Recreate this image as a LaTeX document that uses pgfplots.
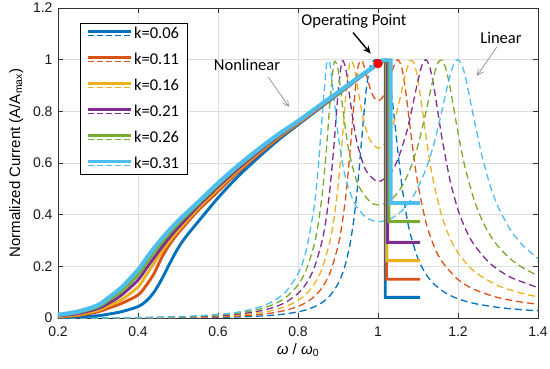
\documentclass[border=0pt]{standalone}
\usepackage{fontspec}
\setmainfont{Liberation Sans}
\newfontfamily\arialf{Liberation Sans}
\newfontfamily\calib{Carlito}
\usepackage{pgfplots}
\pgfplotsset{compat=1.18}
\usetikzlibrary{arrows.meta}
\definecolor{c1}{rgb}{0,0.447,0.741}
\definecolor{c2}{rgb}{0.85,0.325,0.098}
\definecolor{c3}{rgb}{0.929,0.694,0.125}
\definecolor{c4}{rgb}{0.494,0.184,0.556}
\definecolor{c5}{rgb}{0.466,0.674,0.188}
\definecolor{c6}{rgb}{0.301,0.745,0.933}
\newcommand\tickfont{\arialf\fontsize{14}{16}\selectfont}
\begin{document}
\begin{tikzpicture}
\useasboundingbox (-58pt,-50pt) rectangle (492pt,318pt);
\begin{axis}[
  scale only axis, width=480pt, height=310pt,
  xmin=0.2, xmax=1.4, ymin=0, ymax=1.2,
  xtick={0.2,0.4,0.6,0.8,1,1.2,1.4},
  ytick={0,0.2,0.4,0.6,0.8,1,1.2},
  xticklabel={\tickfont\pgfmathprintnumber[assume math mode=true]{\tick}},
  yticklabel={\tickfont\pgfmathprintnumber[assume math mode=true]{\tick}},
  tick label style={color=black!90},
  xticklabel style={yshift=-5pt},
  yticklabel style={xshift=-2pt},
  tick align=inside, major tick length=5pt,
  tick style={color=black!80, line width=0.6pt},
  axis line style={color=black!80, line width=0.7pt},
  grid=major, major grid style={color=black!13, line width=0.7pt},
  xlabel={\textit{ω} / \textit{ω}\textsubscript{0}},
  ylabel={Normalized Current (A/A\textsubscript{max})},
  label style={font=\arialf\fontsize{15}{17}\selectfont},
  xlabel style={yshift=0pt},
  ylabel style={yshift=3pt},
  legend style={at={(rel axis cs:0.0458,0.9516)}, anchor=north west,
    draw=black, line width=0.9pt, fill=white,
    font=\calib\fontsize{16.5}{18}\selectfont, row sep=9pt,
    inner xsep=6pt, inner ysep=2pt},
  legend cell align=left,
  legend image code/.code={
    \draw[#1, solid, line width=2.6pt] (0pt,2.2pt) -- (43pt,2.2pt);
    \draw[#1, line width=1pt, dash pattern=on 6pt off 3pt] (0pt,-1.8pt) -- (43pt,-1.8pt);
  },
  dsh/.style={line width=1.3pt, dash pattern=on 7pt off 4pt, smooth, tension=0.45, forget plot},
  sol/.style={line width=2.9pt, smooth, tension=0.5},
  stp/.style={line width=2.9pt, forget plot},
]
% ---------- linear (dashed) responses ----------
\addplot[c1, dsh] coordinates {(0.2,0.0) (0.3,0.0001) (0.4,0.0003) (0.5,0.0009) (0.6,0.0025) (0.65,0.0042) (0.7,0.0071) (0.74,0.0112) (0.77,0.0161) (0.8,0.0238) (0.82,0.0315) (0.84,0.0427) (0.86,0.0596) (0.88,0.0865) (0.9,0.1321) (0.91,0.1673) (0.92,0.2161) (0.93,0.2857) (0.94,0.3859) (0.95,0.5266) (0.96,0.705) (0.97,0.876) (0.98,0.9728) (0.99,0.998) (1.0,1.0) (1.01,0.9985) (1.02,0.979) (1.03,0.9106) (1.04,0.785) (1.05,0.6396) (1.06,0.5096) (1.07,0.4076) (1.08,0.3304) (1.1,0.2292) (1.12,0.1693) (1.14,0.1313) (1.17,0.0959) (1.2,0.0743) (1.24,0.0565) (1.3,0.041) (1.36,0.0321) (1.4,0.0281)};
\addplot[c2, dsh] coordinates {(0.2,0.0) (0.3,0.0002) (0.4,0.0006) (0.5,0.0017) (0.6,0.0046) (0.65,0.0077) (0.7,0.0132) (0.74,0.0208) (0.77,0.03) (0.8,0.0447) (0.82,0.0598) (0.84,0.0821) (0.86,0.1168) (0.88,0.1742) (0.9,0.2776) (0.91,0.3612) (0.92,0.4794) (0.93,0.6414) (0.94,0.831) (0.95,0.9717) (0.96,0.996) (0.97,0.947) (0.98,0.891) (0.99,0.853) (1.0,0.841) (1.01,0.851) (1.02,0.882) (1.03,0.9285) (1.04,0.9766) (1.05,1.0) (1.06,0.9656) (1.07,0.869) (1.08,0.7417) (1.09,0.619) (1.1,0.5164) (1.12,0.3696) (1.14,0.2778) (1.16,0.2185) (1.2,0.1488) (1.24,0.1108) (1.3,0.0791) (1.36,0.0613) (1.4,0.0534)};
\addplot[c3, dsh] coordinates {(0.2,0.0001) (0.3,0.0002) (0.4,0.0008) (0.5,0.0025) (0.6,0.0068) (0.65,0.0113) (0.7,0.0194) (0.74,0.0308) (0.77,0.0449) (0.8,0.068) (0.82,0.0922) (0.84,0.1294) (0.86,0.19) (0.88,0.298) (0.89,0.385) (0.9,0.509) (0.91,0.6777) (0.92,0.8697) (0.93,0.9918) (0.94,0.9736) (0.95,0.884) (0.96,0.796) (0.97,0.7314) (0.98,0.689) (1.0,0.6575) (1.02,0.6817) (1.04,0.7588) (1.05,0.8168) (1.06,0.885) (1.07,0.952) (1.08,0.9955) (1.09,0.988) (1.1,0.9205) (1.11,0.8158) (1.12,0.7035) (1.13,0.602) (1.14,0.517) (1.16,0.392) (1.18,0.309) (1.2,0.252) (1.24,0.181) (1.3,0.1252) (1.36,0.0953) (1.4,0.0823)};
\addplot[c4, dsh] coordinates {(0.2,0.0001) (0.3,0.0003) (0.4,0.0011) (0.5,0.0032) (0.6,0.0089) (0.65,0.015) (0.7,0.0259) (0.74,0.0416) (0.77,0.0614) (0.8,0.095) (0.82,0.1318) (0.84,0.1913) (0.86,0.2963) (0.87,0.381) (0.88,0.5017) (0.89,0.67) (0.9,0.8687) (0.91,0.994) (0.92,0.9606) (0.93,0.848) (0.94,0.7417) (0.95,0.663) (0.97,0.5705) (1.0,0.528) (1.03,0.5578) (1.05,0.616) (1.07,0.7108) (1.08,0.7747) (1.09,0.847) (1.1,0.92) (1.11,0.979) (1.12,1.0) (1.13,0.9685) (1.14,0.8916) (1.15,0.794) (1.16,0.696) (1.18,0.5335) (1.2,0.419) (1.22,0.3403) (1.24,0.2842) (1.28,0.2113) (1.33,0.1587) (1.4,0.1176)};
\addplot[c5, dsh] coordinates {(0.2,0.0001) (0.3,0.0004) (0.4,0.0014) (0.5,0.004) (0.6,0.0112) (0.65,0.0188) (0.7,0.0328) (0.74,0.0534) (0.77,0.0803) (0.8,0.128) (0.82,0.1838) (0.84,0.281) (0.85,0.359) (0.86,0.471) (0.87,0.632) (0.88,0.835) (0.89,0.988) (0.9,0.9636) (0.91,0.837) (0.92,0.716) (0.93,0.6255) (0.95,0.5163) (0.98,0.4495) (1.0,0.438) (1.02,0.445) (1.04,0.4685) (1.06,0.51) (1.08,0.5746) (1.1,0.6687) (1.12,0.798) (1.13,0.871) (1.14,0.94) (1.15,0.988) (1.16,0.998) (1.17,0.9635) (1.18,0.8935) (1.19,0.806) (1.2,0.7185) (1.21,0.638) (1.22,0.568) (1.24,0.4586) (1.26,0.3793) (1.28,0.3213) (1.3,0.278) (1.33,0.2303) (1.36,0.1962) (1.4,0.164)};
\addplot[c6, dsh] coordinates {(0.2,0.0001) (0.3,0.0005) (0.4,0.0016) (0.5,0.0048) (0.6,0.0134) (0.65,0.0228) (0.7,0.0403) (0.74,0.0667) (0.77,0.1028) (0.8,0.171) (0.82,0.2577) (0.84,0.4259) (0.85,0.5708) (0.86,0.7708) (0.87,0.962) (0.8737,0.995) (0.88,0.9817) (0.89,0.8516) (0.9,0.7133) (0.91,0.61) (0.92,0.537) (0.94,0.448) (0.97,0.3895) (1.0,0.373) (1.03,0.3828) (1.06,0.4156) (1.09,0.4762) (1.12,0.5765) (1.14,0.6753) (1.16,0.8034) (1.17,0.8735) (1.18,0.938) (1.19,0.9847) (1.2,1.0) (1.21,0.9775) (1.22,0.9233) (1.24,0.771) (1.26,0.627) (1.28,0.514) (1.3,0.431) (1.33,0.3436) (1.36,0.284) (1.4,0.2303)};
% ---------- nonlinear (solid) responses: rising branch + jump/step ----------
\addplot[c1, sol] coordinates {(0.2,0.002) (0.25,0.005) (0.3,0.009) (0.33,0.016) (0.36,0.025) (0.4,0.044) (0.42,0.065) (0.44,0.1) (0.46,0.152) (0.48,0.213) (0.5,0.27) (0.52,0.315) (0.55,0.372) (0.6,0.465) (0.65,0.548) (0.7,0.62) (0.75,0.688) (0.8,0.748) (0.85,0.807) (0.9,0.866) (0.95,0.925) (1.0,0.982) (1.012,0.996)};
\addlegendentry{k=0.06}
\addplot[c1, stp] coordinates {(1.0,0.982) (1.012,0.996) (1.018,0.996) (1.018,0.08) (1.105,0.08)};
\addplot[c2, sol] coordinates {(0.2,0.004) (0.25,0.01) (0.3,0.024) (0.33,0.04) (0.36,0.057) (0.4,0.089) (0.42,0.125) (0.44,0.172) (0.46,0.236) (0.48,0.287) (0.5,0.328) (0.52,0.364) (0.55,0.416) (0.6,0.49) (0.65,0.565) (0.7,0.632) (0.75,0.695) (0.8,0.752) (0.85,0.81) (0.9,0.868) (0.95,0.927) (1.0,0.983) (1.012,0.997)};
\addlegendentry{k=0.11}
\addplot[c2, stp] coordinates {(1.0,0.983) (1.012,0.997) (1.021,0.997) (1.021,0.15) (1.105,0.15)};
\addplot[c3, sol] coordinates {(0.2,0.006) (0.25,0.013) (0.3,0.03) (0.33,0.05) (0.36,0.072) (0.4,0.12) (0.42,0.165) (0.44,0.212) (0.46,0.258) (0.48,0.3) (0.5,0.338) (0.52,0.373) (0.55,0.425) (0.6,0.5) (0.65,0.572) (0.7,0.638) (0.75,0.7) (0.8,0.755) (0.85,0.813) (0.9,0.87) (0.95,0.928) (1.0,0.984) (1.012,0.997)};
\addlegendentry{k=0.16}
\addplot[c3, stp] coordinates {(1.0,0.984) (1.012,0.997) (1.022,0.997) (1.022,0.222) (1.105,0.222)};
\addplot[c4, sol] coordinates {(0.2,0.008) (0.25,0.017) (0.3,0.037) (0.33,0.06) (0.36,0.09) (0.4,0.147) (0.42,0.19) (0.44,0.233) (0.46,0.275) (0.48,0.314) (0.5,0.35) (0.52,0.383) (0.55,0.433) (0.6,0.508) (0.65,0.578) (0.7,0.643) (0.75,0.703) (0.8,0.758) (0.85,0.815) (0.9,0.871) (0.95,0.929) (1.0,0.984) (1.012,0.997)};
\addlegendentry{k=0.21}
\addplot[c4, stp] coordinates {(1.0,0.984) (1.012,0.997) (1.024,0.997) (1.024,0.293) (1.105,0.293)};
\addplot[c5, sol] coordinates {(0.2,0.01) (0.25,0.021) (0.3,0.043) (0.33,0.072) (0.36,0.105) (0.4,0.167) (0.42,0.211) (0.44,0.254) (0.46,0.293) (0.48,0.33) (0.5,0.364) (0.52,0.395) (0.55,0.44) (0.6,0.515) (0.65,0.585) (0.7,0.648) (0.75,0.706) (0.8,0.76) (0.85,0.816) (0.9,0.872) (0.95,0.929) (1.0,0.985) (1.012,0.998)};
\addlegendentry{k=0.26}
\addplot[c5, stp] coordinates {(1.0,0.985) (1.012,0.998) (1.027,0.998) (1.027,0.373) (1.105,0.373)};
\addplot[c6, sol, line width=4.2pt] coordinates {(0.2,0.012) (0.25,0.025) (0.3,0.05) (0.33,0.083) (0.36,0.12) (0.4,0.186) (0.42,0.229) (0.44,0.27) (0.46,0.308) (0.48,0.343) (0.5,0.375) (0.52,0.405) (0.55,0.448) (0.6,0.522) (0.65,0.59) (0.7,0.652) (0.75,0.71) (0.8,0.762) (0.85,0.818) (0.9,0.874) (0.95,0.93) (1.0,0.985) (1.012,0.998)};
\addlegendentry{k=0.31}
\addplot[c6, stp, line width=3.6pt] coordinates {(1.0,0.985) (1.012,0.998) (1.032,0.998) (1.032,0.445) (1.105,0.445)};
% operating point
\addplot[only marks, mark=*, mark size=4.5pt, color=red, mark options={fill=red, draw=red}, forget plot] coordinates {(1.0,0.985)};
% annotations
\node[font=\calib\fontsize{16.5}{18}\selectfont] at (axis cs:0.94,1.147) {Operating Point};
\draw[-{Stealth[length=8pt,width=7pt]}, line width=1.4pt] (axis cs:0.9375,1.105) -- (axis cs:0.982,1.023);
\node[font=\calib\fontsize{16.5}{18}\selectfont] at (axis cs:0.6725,0.98) {Nonlinear};
\draw[gray, line width=0.6pt, -{Straight Barb[length=6pt,width=6pt]}] (axis cs:0.725,0.934) -- (axis cs:0.7775,0.818);
\node[font=\calib\fontsize{16.5}{18}\selectfont] at (axis cs:1.3075,1.085) {Linear};
\draw[gray, line width=0.6pt, -{Straight Barb[length=6pt,width=6pt]}] (axis cs:1.2975,1.05) -- (axis cs:1.2475,0.938);
\end{axis}
\end{tikzpicture}
\end{document}
